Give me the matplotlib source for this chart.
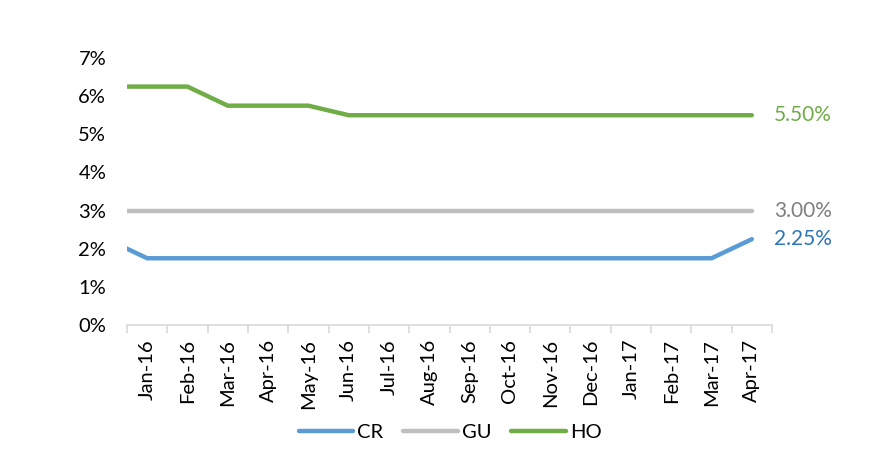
import matplotlib
matplotlib.use("Agg")
import matplotlib.pyplot as plt
from matplotlib.ticker import FixedLocator, FuncFormatter

plt.rcParams['font.family'] = ['Lato', 'DejaVu Sans']

# categories (first entry "Dec-15" sits just left of the visible range)
categories = ["Dec-15", "Jan-16", "Feb-16", "Mar-16", "Apr-16", "May-16", "Jun-16", "Jul-16",
              "Aug-16", "Sep-16", "Oct-16", "Nov-16", "Dec-16", "Jan-17",
              "Feb-17", "Mar-17", "Apr-17"]
cr = [2.25, 1.75, 1.75, 1.75, 1.75, 1.75, 1.75, 1.75, 1.75, 1.75, 1.75, 1.75, 1.75, 1.75, 1.75, 1.75, 2.25]
gu = [3.00] * 17
ho = [6.25, 6.25, 6.25, 5.75, 5.75, 5.75, 5.50, 5.50, 5.50, 5.50, 5.50, 5.50, 5.50, 5.50, 5.50, 5.50, 5.50]
end_labels = ["2.25%", "3.00%", "5.50%"]
yticks = [0, 1, 2, 3, 4, 5, 6, 7]

fig = plt.figure(figsize=(8.74, 4.54), dpi=100)
ax = fig.add_axes([127/874, 1-325/454, (772-127)/874, (325-58)/454])

x = list(range(-1, len(categories) - 1))
series = [("CR", cr, "#5b9bd5", "#2e75b6"), ("GU", gu, "#bfbfbf", "#7f7f7f"), ("HO", ho, "#70ad47", "#70ad47")]
for (name, vals, col, tcol), lab in zip(series, end_labels):
    ax.plot(x, vals, color=col, lw=3.2, label=name, solid_capstyle='round', solid_joinstyle='miter', clip_on=True)
    ax.annotate(lab, xy=(x[-1], vals[-1]), xytext=(16, 0), textcoords='offset points',
                va='center', ha='left', color=tcol, fontsize=15, annotation_clip=False)

ax.set_xlim(-0.5, len(categories) - 1.5)
ax.set_ylim(0, 7)
ax.set_yticks(yticks)
ax.yaxis.set_major_formatter(FuncFormatter(lambda v, p: f"{int(v)}%"))
ax.tick_params(axis='y', length=0, labelsize=14.5, pad=15)

shown = categories[1:]
ax.set_xticks(range(len(shown)))
ax.set_xticklabels(shown, rotation=90, fontsize=14.5)
ax.xaxis.set_minor_locator(FixedLocator([i - 0.5 for i in range(len(shown) + 1)]))
ax.tick_params(axis='x', which='major', length=0, pad=10)
ax.tick_params(axis='x', which='minor', length=6, color='#d9d9d9', width=1.2)

for s in ['top', 'right', 'left']:
    ax.spines[s].set_visible(False)
ax.spines['bottom'].set_color('#d9d9d9')
ax.spines['bottom'].set_linewidth(1.2)

leg = fig.legend(loc='center', bbox_to_anchor=(450/874, 1-432/454), ncol=3, frameon=False,
                 fontsize=14.5, handlelength=2.7, columnspacing=1.0, handletextpad=0.2)

fig.savefig("out.png", dpi=100)
